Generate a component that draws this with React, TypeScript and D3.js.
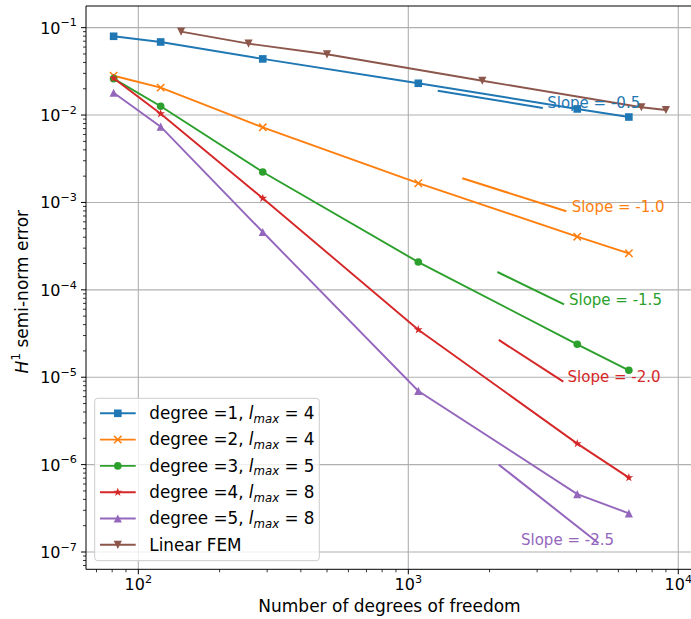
import React from 'react';
import * as d3 from 'd3';

// ---- data ----
const dofs = [81, 121, 289, 1089, 4225, 6561];
const deg1Err = [0.0797, 0.0686, 0.0439, 0.0231, 0.01175, 0.0095];
const deg2Err = [0.0282, 0.0206, 0.00724, 0.00166, 0.000406, 0.000262];
const deg3Err = [0.0261, 0.0126, 0.00223, 0.000208, 2.38e-5, 1.2e-5];
const deg4Err = [0.0264, 0.01037, 0.001117, 3.5e-5, 1.74e-6, 7.1e-7];
const deg5Err = [0.018, 0.00736, 0.000459, 6.97e-6, 4.6e-7, 2.77e-7];
const femDofs = [144, 256, 500, 1880, 7300, 9000];
const femErr = [0.09, 0.0656, 0.0496, 0.0247, 0.01228, 0.01142];

const seriesDegrees = ['1', '2', '3', '4', '5'];
const seriesLmax = ['4', '4', '5', '8', '8'];
const seriesColors = ['#1f77b4', '#ff7f0e', '#2ca02c', '#d62728', '#9467bd', '#8c564b'];
const seriesMarkers = ['square', 'x', 'circle', 'star', 'triUp', 'triDown'];

const slopeValues = ['-0.5', '-1.0', '-1.5', '-2.0', '-2.5'];
const slopeX0 = [1285, 1585, 2138, 2163, 2163];
const slopeX1 = [3150, 3850, 3775, 3750, 5070];
const slopeY0 = [0.019, 0.00189, 1.6e-4, 2.67e-5, 1.0e-6];
const slopeY1 = [0.01205, 7.92e-4, 6.83e-5, 8.9e-6, 1.26e-7];
const slopeLabelX = [3270, 4027, 3936, 3891, 2615];
const slopeLabelY = [0.0121, 7.78e-4, 6.7e-5, 8.8e-6, 1.2e-7];

const xTickExps = [2, 3, 4];
const yTickExps = [-7, -6, -5, -4, -3, -2, -1];
const xDomain = [64.0, 11533];
const yDomain = [6.34e-8, 0.177];

// ---- layout ----
const W = 691, H = 619;
const left = 86, top = 6, right = 695, bottom = 569.3;
const FONT = '"DejaVu Sans", sans-serif';

const x = d3.scaleLog().domain(xDomain).range([left, right]);
const y = d3.scaleLog().domain(yDomain).range([bottom, top]);

const errSets = [deg1Err, deg2Err, deg3Err, deg4Err, deg5Err, femErr];
const xSets = [dofs, dofs, dofs, dofs, dofs, femDofs];

function Marker({ type, cx, cy, color }: { type: string; cx: number; cy: number; color: string }) {
  const t = `translate(${cx},${cy})`;
  if (type === 'square') return <rect x={cx - 3.8} y={cy - 3.8} width={7.6} height={7.6} fill={color} />;
  if (type === 'circle') return <circle cx={cx} cy={cy} r={3.8} fill={color} />;
  if (type === 'x') {
    const s = 3.7;
    return <path d={`M${cx - s},${cy - s}L${cx + s},${cy + s}M${cx - s},${cy + s}L${cx + s},${cy - s}`} stroke={color} strokeWidth={1.5} fill="none" />;
  }
  if (type === 'star') return <path transform={t} d={d3.symbol(d3.symbolStar, 24)() as string} fill={color} />;
  if (type === 'triUp') { const h = 4.1; return <path d={`M${cx},${cy - h}L${cx - h},${cy + h}L${cx + h},${cy + h}Z`} fill={color} />; }
  if (type === 'triDown') { const h = 4.1; return <path d={`M${cx},${cy + h}L${cx - h},${cy - h}L${cx + h},${cy - h}Z`} fill={color} />; }
  return null;
}

function Pow10({ e, fs }: { e: number; fs: number }) {
  return (
    <>
      <tspan>10</tspan>
      <tspan fontSize={fs * 0.7} dy={-fs * 0.45}>{e < 0 ? '\u2212' + Math.abs(e) : String(e)}</tspan>
    </>
  );
}

export default function App() {
  const line = d3.line<[number, number]>().x(d => x(d[0])).y(d => y(d[1]));
  const xMinor: number[] = [];
  const yMinor: number[] = [];
  for (let e = 1; e <= 4; e++) for (let m = 2; m <= 9; m++) { const v = m * Math.pow(10, e); if (v >= xDomain[0] && v <= xDomain[1]) xMinor.push(v); }
  for (let e = -8; e <= -1; e++) for (let m = 2; m <= 9; m++) { const v = m * Math.pow(10, e); if (v >= yDomain[0] && v <= yDomain[1]) yMinor.push(v); }

  const legendNames = [...seriesDegrees.map((d, i) => ({ deg: d, l: seriesLmax[i] })), null];
  const lgX = 94.7, lgY = 398.3, lgW = 224.6, lgH = 162.4;
  const rowY0 = 413.3, rowDY = 26.3;
  const tickFs = 16, lgFs = 16.8, labFs = 17, slopeFs = 15;

  return (
    <svg width={W} height={H} style={{ display: 'block', position: 'absolute', left: 0, top: 0 }} fontFamily={FONT}>
      <rect x={0} y={0} width={W} height={H} fill="#fff" />
      <defs>
        <clipPath id="plotclip"><rect x={left} y={top} width={right - left} height={bottom - top} /></clipPath>
      </defs>
      {/* grid */}
      <g stroke="#b0b0b0" strokeWidth={1.1}>
        {xTickExps.map(e => <line key={'gx' + e} x1={x(Math.pow(10, e))} x2={x(Math.pow(10, e))} y1={top} y2={bottom} />)}
        {yTickExps.map(e => <line key={'gy' + e} x1={left} x2={right} y1={y(Math.pow(10, e))} y2={y(Math.pow(10, e))} />)}
      </g>
      <g clipPath="url(#plotclip)">
        {/* slope reference lines */}
        {slopeValues.map((s, i) => (
          <g key={'s' + i}>
            <line x1={x(slopeX0[i])} y1={y(slopeY0[i])} x2={x(slopeX1[i])} y2={y(slopeY1[i])} stroke={seriesColors[i]} strokeWidth={2} />
          </g>
        ))}
        {/* series */}
        {errSets.map((errs, si) => {
          const pts = errs.map((v, j) => [xSets[si][j], v] as [number, number]);
          return (
            <g key={'ser' + si}>
              <path d={line(pts) as string} fill="none" stroke={seriesColors[si]} strokeWidth={1.9} />
              {pts.map((p, j) => <Marker key={j} type={seriesMarkers[si]} cx={x(p[0])} cy={y(p[1])} color={seriesColors[si]} />)}
            </g>
          );
        })}
        {slopeValues.map((s, i) => (
          <text key={'st' + i} x={x(slopeLabelX[i])} y={y(slopeLabelY[i])} fontSize={slopeFs} fill={seriesColors[i]}>{`Slope = ${s}`}</text>
        ))}
      </g>
      {/* spines */}
      <g stroke="#000" strokeWidth={1} fill="none">
        <line x1={left} x2={left} y1={top} y2={bottom} />
        <line x1={left} x2={right} y1={top} y2={top} />
        <line x1={left} x2={right} y1={bottom} y2={bottom} />
      </g>
      {/* ticks */}
      <g stroke="#000" strokeWidth={1}>
        {xTickExps.map(e => <line key={'tx' + e} x1={x(Math.pow(10, e))} x2={x(Math.pow(10, e))} y1={bottom} y2={bottom + 5} />)}
        {xMinor.map(v => <line key={'mx' + v} x1={x(v)} x2={x(v)} y1={bottom} y2={bottom + 3} strokeWidth={0.8} />)}
        {yTickExps.map(e => <line key={'ty' + e} x1={left - 5} x2={left} y1={y(Math.pow(10, e))} y2={y(Math.pow(10, e))} />)}
        {yMinor.map(v => <line key={'my' + v} x1={left - 3} x2={left} y1={y(v)} y2={y(v)} strokeWidth={0.8} />)}
      </g>
      {/* tick labels */}
      {xTickExps.map(e => (
        <text key={'lx' + e} x={x(Math.pow(10, e))} y={590} fontSize={tickFs} textAnchor="middle" fill="#000"><Pow10 e={e} fs={tickFs} /></text>
      ))}
      {yTickExps.map(e => (
        <text key={'ly' + e} x={77} y={y(Math.pow(10, e)) + 6} fontSize={tickFs} textAnchor="end" fill="#000"><Pow10 e={e} fs={tickFs} /></text>
      ))}
      {/* axis labels */}
      <text x={(left + right) / 2 - 1} y={612} fontSize={labFs} textAnchor="middle" fill="#000">Number of degrees of freedom</text>
      <text transform={`translate(28,${(top + bottom) / 2 + 4}) rotate(-90)`} fontSize={labFs} textAnchor="middle" fill="#000">
        <tspan fontStyle="italic">H</tspan>
        <tspan fontSize={labFs * 0.7} dy={-labFs * 0.45}>1</tspan>
        <tspan dy={labFs * 0.45}>{' semi-norm error'}</tspan>
      </text>
      {/* legend */}
      <rect x={lgX} y={lgY} width={lgW} height={lgH} rx={3} fill="#fff" fillOpacity={0.8} stroke="#cccccc" strokeWidth={1} />
      {legendNames.map((n, i) => {
        const cy = rowY0 + i * rowDY;
        return (
          <g key={'lg' + i}>
            <line x1={100} x2={135.7} y1={cy} y2={cy} stroke={seriesColors[i]} strokeWidth={1.9} />
            <Marker type={seriesMarkers[i]} cx={117.8} cy={cy} color={seriesColors[i]} />
            <text x={149.3} y={cy + 5.8} fontSize={lgFs} fill="#000" style={{ whiteSpace: 'pre' }}>
              {n ? (
                <>
                  <tspan>{`degree =${n.deg}, `}</tspan>
                  <tspan fontStyle="italic">l</tspan>
                  <tspan fontStyle="italic" fontSize={lgFs * 0.7} dy={3.5}>max</tspan>
                  <tspan dy={-3.5}>{` = ${n.l}`}</tspan>
                </>
              ) : 'Linear FEM'}
            </text>
          </g>
        );
      })}
    </svg>
  );
}
